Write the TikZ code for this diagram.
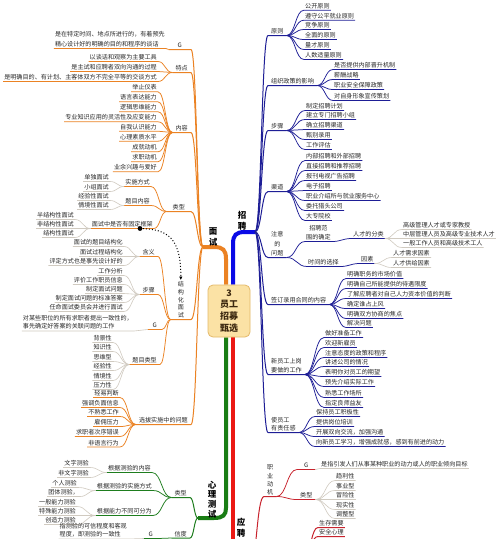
\documentclass[tikz,border=0pt]{standalone}
\usepackage{fontspec}
\newfontfamily\cjk{Noto Sans CJK SC}
\usetikzlibrary{calc,arrows.meta,backgrounds}
\definecolor{ocol}{RGB}{235,130,35}
\definecolor{bcol}{RGB}{30,30,150}
\definecolor{btrunk}{RGB}{10,10,230}
\definecolor{gcol}{RGB}{30,125,30}
\definecolor{gtrunk}{RGB}{25,125,20}
\definecolor{rcol}{RGB}{200,35,45}
\definecolor{rtrunk}{RGB}{235,25,20}
\definecolor{grcol}{RGB}{208,202,192}
\definecolor{txt}{RGB}{40,40,40}
\definecolor{boxfill}{RGB}{251,226,165}
\definecolor{boxdraw}{RGB}{228,185,105}
\newcommand\RK[7][]{%
  \node[tx,anchor=south west,#1] (#4) at (#5,#6) {#7};
  \coordinate (tmpm) at ($(#3)!0.5!(#4.south west)$);
  \draw[#2] (#3) .. controls (tmpm |- #3) and (tmpm |- #4.south west) .. (#4.south west) -- (#4.south east);}
\newcommand\LK[7][]{%
  \node[tx,anchor=south east,#1] (#4) at (#5,#6) {#7};
  \coordinate (tmpm) at ($(#3)!0.5!(#4.south east)$);
  \draw[#2] (#3) .. controls (tmpm |- #3) and (tmpm |- #4.south east) .. (#4.south east) -- (#4.south west);}
\begin{document}
\begin{tikzpicture}[x=1pt,y=-1pt,
 tx/.style={font=\cjk\fontsize{6.1}{9.5}\selectfont, inner xsep=1pt, inner ysep=1.3pt, text=txt},
 lab/.style={inner xsep=3pt},
 O1/.style={draw=ocol,line width=1pt},
 O2/.style={draw=ocol,line width=0.75pt},
 B1/.style={draw=bcol,line width=1pt},
 B2/.style={draw=bcol,line width=0.75pt},
 G1/.style={draw=gcol,line width=1pt},
 G2/.style={draw=gcol,line width=0.75pt},
 R1/.style={draw=rcol,line width=1pt},
 R2/.style={draw=rcol,line width=0.75pt},
 Q/.style={draw=grcol,line width=0.6pt},
 trunk/.style={line width=4pt},
 main/.style={font=\cjk\bfseries\fontsize{8.5}{10.5}\selectfont, text=black, align=center, inner sep=0pt},
]
\useasboundingbox (0,0) rectangle (500,539);
\clip (0,0) rectangle (500,539);

\coordinate (O0) at (203,247);
\coordinate (B0) at (255,232);
\coordinate (G0) at (198,518);
\coordinate (R0) at (249,572);
\coordinate (R9) at (305,552);

% centre
\node[draw=boxdraw, fill=boxfill, rounded corners=5pt, line width=0.8pt, minimum width=42pt, minimum height=52pt,
  font=\cjk\bfseries\fontsize{9}{11.7}\selectfont, align=center, text={rgb,255:red,60;green,40;blue,15}] (ctr) at (229,311) {3\\员工\\招募\\甄选};

\begin{scope}[on background layer]
\fill[white] (0,0) rectangle (500,539);
\draw[trunk, draw=ocol] ([xshift=-3pt]ctr.north) -- (226,259) .. controls (226,250) and (223,247) .. (214,247) -- (O0);
\draw[trunk, draw=btrunk] ([xshift=4pt]ctr.north) -- (233,244) .. controls (233,235) and (236,232) .. (245,232) -- (B0);
\draw[trunk, draw=gtrunk] ([xshift=-3pt]ctr.south) -- (226,508) .. controls (226,515) and (223,518) .. (214,518) -- (G0);
\draw[trunk, draw=rtrunk] ([xshift=4pt]ctr.south) -- (233,560);
\end{scope}

\node[main] (lm) at (213,237) {面\\试};
\node[main] (lz) at (242,221) {招\\聘};
\node[main, font=\cjk\bfseries\fontsize{8.5}{9.7}\selectfont] (lx) at (212,499.5) {心\\理\\测\\试};
\node[main, font=\cjk\bfseries\fontsize{8.5}{11}\selectfont] (ly) at (241,527.5) {应\\聘};

% ================= orange: 面试
\LK[lab,minimum width=22pt]{O1}{O0}{oG}{191}{49.5}{G}
\LK[align=left]{O2}{oG.south west}{oGt}{166}{48.5}{是在特定时间、地点所进行的，有着预先\\精心设计好的明确的目的和程序的谈话}

\LK[lab]{O1}{O0}{otd}{191}{72.5}{特点}
\LK{O2}{otd.south west}{otda}{158}{61.5}{以谈话和观察为主要工具}
\LK{O2}{otd.south west}{otdb}{158}{71.5}{是主试和应聘者双向沟通的过程}
\LK{O2}{otd.south west}{otdc}{158}{81.5}{是明确目的、有计划、主客体双方不完全平等的交谈方式}

\LK[lab]{O1}{O0}{onr}{191}{132.5}{内容}
\LK{O2}{onr.south west}{onra}{158}{91.8}{举止仪表}
\LK{O2}{onr.south west}{onrb}{158}{101.8}{语言表达能力}
\LK{O2}{onr.south west}{onrc}{158}{111.8}{逻辑思维能力}
\LK{O2}{onr.south west}{onrd}{158}{121.8}{专业知识应用的灵活性及应变能力}
\LK{O2}{onr.south west}{onre}{158}{131.2}{自我认识能力}
\LK{O2}{onr.south west}{onrf}{158}{141.2}{心理素质水平}
\LK{O2}{onr.south west}{onrg}{158}{151.8}{成就动机}
\LK{O2}{onr.south west}{onrh}{158}{161.8}{求职动机}
\LK{O2}{onr.south west}{onri}{158}{171.8}{业余兴趣与爱好}

\LK[lab,minimum width=24pt]{O1}{O0}{olx}{191}{211.5}{类型}
\LK{O2}{olx.south west}{oss}{151}{186.5}{实施方式}
\LK{Q}{oss.south west}{ossa}{110}{181.5}{单独面试}
\LK{Q}{oss.south west}{ossb}{110}{191.5}{小组面试}
\LK{O2}{olx.south west}{otm}{151}{205.5}{题目内容}
\LK{Q}{otm.south west}{otma}{110}{200.5}{经验性面试}
\LK{Q}{otm.south west}{otmb}{110}{209.5}{情境性面试}
\LK{O2}{olx.south west}{okj}{154}{228.5}{面试中是否有固定框架}
\LK{Q}{okj.south west}{okja}{75}{219.5}{半结构性面试}
\LK{Q}{okj.south west}{okjb}{75}{228.5}{非结构性面试}
\LK{Q}{okj.south west}{okjc}{75}{237.5}{结构性面试}

\LK[lab,align=center,minimum width=20pt,font=\cjk\fontsize{6.1}{7.7}\selectfont]{O1}{O0}{jgh}{191}{319.5}{结\\构\\化\\面\\试}
\LK[lab]{O2}{jgh.south west}{ohy}{158}{256.5}{含义}
\LK{Q}{ohy.south west}{ohya}{124}{246.5}{面试的题目结构化}
\LK{Q}{ohy.south west}{ohyb}{124}{256.5}{面试过程结构化}
\LK{Q}{ohy.south west}{ohyc}{124}{265.5}{评定方式也是事先设计好的}
\LK[lab]{O2}{jgh.south west}{obz}{158}{294.5}{步骤}
\LK{Q}{obz.south west}{obza}{124}{275.5}{工作分析}
\LK{Q}{obz.south west}{obzb}{124}{284.5}{评价工作职员信息}
\LK{Q}{obz.south west}{obzc}{124}{293.5}{制定面试问题}
\LK{Q}{obz.south west}{obzd}{124}{302.5}{制定面试问题的标准答案}
\LK{Q}{obz.south west}{obze}{124}{311.5}{任命面试委员会并进行面试}
\LK[lab,minimum width=14pt]{O2}{jgh.south west}{oGb}{162}{329.5}{G}
\LK[align=left,font=\cjk\fontsize{6.1}{8.2}\selectfont]{Q}{oGb.south west}{oGbt}{134}{331}{对某些职位的所有求职者提出一致性的，\\事先确定好答案的关联问题的工作}
\LK[lab]{O2}{jgh.south west}{otl}{160}{364.5}{题目类型}
\LK{Q}{otl.south west}{otla}{113}{342.5}{背景性}
\LK{Q}{otl.south west}{otlb}{113}{351.5}{知识性}
\LK{Q}{otl.south west}{otlc}{113}{361.5}{思维型}
\LK{Q}{otl.south west}{otld}{113}{370.5}{经验性}
\LK{Q}{otl.south west}{otle}{113}{380.5}{情境性}
\LK{Q}{otl.south west}{otlf}{113}{389.5}{压力性}

\LK[lab]{O1}{O0}{oxb}{191}{424.5}{选拔实施中的问题}
\LK{O2}{oxb.south west}{oxba}{120}{397.5}{轻易判断}
\LK{O2}{oxb.south west}{oxbb}{120}{407.5}{强调负面信息}
\LK{O2}{oxb.south west}{oxbc}{120}{416.5}{不熟悉工作}
\LK{O2}{oxb.south west}{oxbd}{120}{426.5}{雇佣压力}
\LK{O2}{oxb.south west}{oxbe}{120}{436.5}{求职者次序错误}
\LK{O2}{oxb.south west}{oxbf}{120}{447}{非语言行为}

\coordinate (dotA) at (140,228.5);
\draw[dotted, line width=1pt, -{Latex[length=3.5pt,width=3.5pt]}] (dotA) .. controls (168,229) and (181,238) .. (jgh.north);
\fill (dotA) circle (2.4);

% ================= blue: 招聘
\RK[lab]{B1}{B0}{byz}{268}{35.5}{原则}
\RK{B2}{byz.south east}{byza}{304}{10.2}{公开原则}
\RK{B2}{byz.south east}{byzb}{304}{20.2}{遵守公平就业原则}
\RK{B2}{byz.south east}{byzc}{304}{29.5}{竞争原则}
\RK{B2}{byz.south east}{byzd}{304}{39.5}{全面的原则}
\RK{B2}{byz.south east}{byze}{304}{49.5}{量才原则}
\RK{B2}{byz.south east}{byzf}{304}{59.5}{人数适量原则}

\RK[lab]{B1}{B0}{bzz}{268}{85.5}{组织政策的影响}
\RK{B2}{bzz.south east}{bzza}{333}{69.5}{是否提供内部晋升机制}
\RK{B2}{bzz.south east}{bzzb}{333}{79.5}{薪酬战略}
\RK{B2}{bzz.south east}{bzzc}{333}{89.5}{职业安全保障政策}
\RK{B2}{bzz.south east}{bzzd}{333}{100.5}{对自身形象宣传策划}

\RK[lab]{B1}{B0}{bbz}{268}{130.5}{步骤}
\RK{B2}{bbz.south east}{bbza}{305}{110.5}{制定招聘计划}
\RK{B2}{bbz.south east}{bbzb}{305}{119.5}{建立专门招聘小组}
\RK{B2}{bbz.south east}{bbzc}{305}{129.5}{确立招聘渠道}
\RK{B2}{bbz.south east}{bbzd}{305}{139.5}{甄别录用}
\RK{B2}{bbz.south east}{bbze}{305}{149.5}{工作评估}

\RK[lab]{B1}{B0}{bqd}{268}{191.5}{渠道}
\RK{B2}{bqd.south east}{bqda}{305}{160.5}{内部招聘和外部招聘}
\RK{B2}{bqd.south east}{bqdb}{305}{170.5}{直接招聘和推荐招聘}
\RK{B2}{bqd.south east}{bqdc}{305}{180.5}{报刊电视广告招聘}
\RK{B2}{bqd.south east}{bqdd}{305}{190.5}{电子招聘}
\RK{B2}{bqd.south east}{bqde}{305}{200.5}{职业介绍所与就业服务中心}
\RK{B2}{bqd.south east}{bqdf}{305}{210.5}{委托猎头公司}
\RK{B2}{bqd.south east}{bqdg}{305}{220.5}{大专院校}

\RK[lab,align=center]{B1}{B0}{bzy}{268}{257.5}{注意\\的\\问题}
\RK[align=center,font=\cjk\fontsize{6.1}{9}\selectfont]{B2}{bzy.south east}{bfw}{305}{241.5}{招聘范\\围的确定}
\RK{B2}{bfw.south east}{bfl}{352}{238.5}{人才的分类}
\RK{Q}{bfl.south east}{bfla}{402}{229.5}{高级管理人才或专家教授}
\RK{Q}{bfl.south east}{bflb}{402}{238.5}{中层管理人员及高级专业技术人才}
\RK{Q}{bfl.south east}{bflc}{402}{247.5}{一般工作人员和高级技术工人}
\RK{B2}{bzy.south east}{bsj}{307}{266.5}{时间的选择}
\RK{B2}{bsj.south east}{bys}{360}{263.5}{因素}
\RK{Q}{bys.south east}{bysa}{392}{257.5}{人才需求因素}
\RK{Q}{bys.south east}{bysb}{392}{267.5}{人才供给因素}

\RK[lab]{B1}{B0}{bqy}{268}{304.5}{签订录用合同的内容}
\RK{B2}{bqy.south east}{bqya}{346}{278.5}{明确职务的市场价值}
\RK{B2}{bqy.south east}{bqyb}{346}{288.5}{明确自己所能提供的待遇限度}
\RK{B2}{bqy.south east}{bqyc}{346}{298.5}{了解应聘者对自己人力资本价值的判断}
\RK{B2}{bqy.south east}{bqyd}{346}{308.5}{确定谁占上风}
\RK{B2}{bqy.south east}{bqye}{346}{318.5}{明确双方协商的焦点}
\RK{B2}{bqy.south east}{bqyf}{346}{327.5}{解决问题}

\RK[lab,align=left]{B1}{B0}{bxy}{268}{374.5}{新员工上岗\\要做的工作}
\RK{B2}{bxy.south east}{bxya}{324}{337.5}{做好准备工作}
\RK{B2}{bxy.south east}{bxyb}{324}{347.5}{欢迎新雇员}
\RK{B2}{bxy.south east}{bxyc}{324}{357.5}{注意态度的政策和程序}
\RK{B2}{bxy.south east}{bxyd}{324}{366.5}{讲述公司的情况}
\RK{B2}{bxy.south east}{bxye}{324}{376.5}{表明你对员工的期望}
\RK{B2}{bxy.south east}{bxyf}{324}{386.5}{预先介绍实际工作}
\RK{B2}{bxy.south east}{bxyg}{324}{397.5}{熟悉工作场所}
\RK{B2}{bxy.south east}{bxyh}{324}{407.5}{指定良师益友}

\RK[lab,align=left,font=\cjk\fontsize{6.1}{8.5}\selectfont]{B1}{B0}{bzr}{268}{432.5}{使员工\\有责任感}
\RK{B2}{bzr.south east}{bzra}{315}{416.5}{保持员工积极性}
\RK{B2}{bzr.south east}{bzrb}{315}{426.5}{提供岗位培训}
\RK{B2}{bzr.south east}{bzrc}{315}{436.5}{开展双向交流，加强沟通}
\RK{B2}{bzr.south east}{bzrd}{315}{446.5}{向新员工学习，增强成就感，感到有前进的动力}

% ================= green: 心理测试
\LK[lab]{G1}{G0}{glx}{190}{497.5}{类型}
\LK{G2}{glx.south west}{gnr}{152}{472.5}{根据测验的内容}
\LK{Q}{gnr.south west}{gnra}{90}{467.5}{文字测验}
\LK{Q}{gnr.south west}{gnrb}{90}{477.5}{非文字测验}
\LK{G2}{glx.south west}{gss}{153}{490.5}{根据测验的实施方式}
\LK{Q}{gss.south west}{gssa}{78}{487.5}{个人测验}
\LK{Q}{gss.south west}{gssb}{80}{496.5}{团体测验，}
\LK{G2}{glx.south west}{gnl}{153}{515.5}{根据能力不同可分为}
\LK{Q}{gnl.south west}{gnla}{77}{506.5}{一般能力测验}
\LK{Q}{gnl.south west}{gnlb}{77}{515.5}{特殊能力测验}
\LK{Q}{gnl.south west}{gnlc}{77}{524.5}{创造力测验}
\LK[lab]{G1}{G0}{gxd}{190}{538}{信度}
\LK[lab,minimum width=14pt]{G2}{gxd.south west}{gG}{158}{538.5}{G}
\LK[align=left,font=\cjk\fontsize{6.1}{8.5}\selectfont]{Q}{gG.south west}{gGt}{128}{539}{指测验的可信程度和客观\\程度，即测验的一致性}

% ================= red
\RK[lab,align=center,font=\cjk\fontsize{6.1}{8.2}\selectfont]{R1}{R0}{rzy}{264}{496.5}{职\\业\\动\\机}
\RK[lab,minimum width=18pt]{R2}{rzy.south east}{rG}{297}{469.5}{G}
\RK{Q}{rG.south east}{rGt}{320}{468.5}{是指引发人们从事某种职业的动力或人的职业倾向目标}
\RK[lab]{R2}{rzy.south east}{rlx}{297}{499.5}{类型}
\RK{Q}{rlx.south east}{rlxa}{335}{480.5}{趋利性}
\RK{Q}{rlx.south east}{rlxb}{335}{490.5}{事业型}
\RK{Q}{rlx.south east}{rlxc}{335}{499.5}{冒险性}
\RK{Q}{rlx.south east}{rlxd}{335}{509.5}{现实性}
\RK{Q}{rlx.south east}{rlxe}{335}{518.5}{调整型}
\RK{R1}{R9}{rsc}{318}{527.5}{生存需要}
\RK{R1}{R9}{raq}{318}{536.5}{安全心理}
\end{tikzpicture}
\end{document}
